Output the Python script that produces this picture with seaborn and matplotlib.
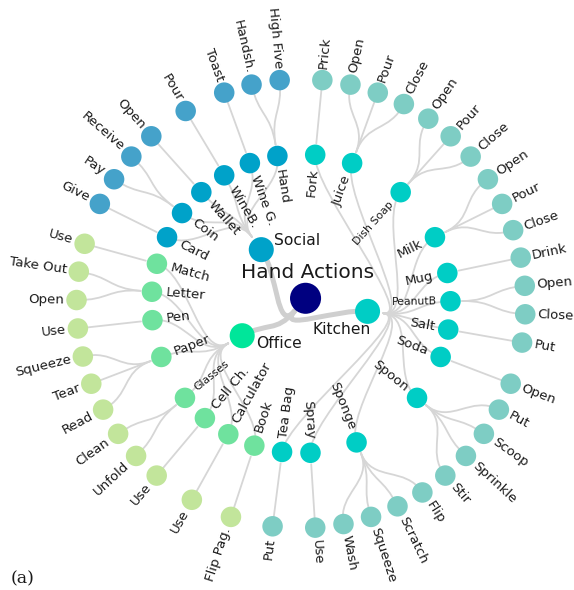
import numpy as np
import pandas as pd
import matplotlib
matplotlib.use('Agg')
import matplotlib.pyplot as plt
from matplotlib.path import Path
from matplotlib.patches import PathPatch
import seaborn as sns

# ── data: hierarchy root -> category -> object -> action ──
ROOT = "Hand Actions"
CATEGORIES = ["Kitchen", "Office", "Social"]

KITCHEN_OBJECTS = ["Fork", "Juice", "Dish Soap", "Milk", "Mug", "PeanutB",
                   "Salt", "Soda", "Spoon", "Sponge", "Spray", "Tea Bag"]
KITCHEN_ACTIONS = [["Prick"], ["Open", "Pour", "Close"], ["Open", "Pour", "Close"],
                   ["Open", "Pour", "Close"], ["Drink"], ["Open", "Close"], ["Put"],
                   ["Open"], ["Put", "Scoop", "Sprinkle", "Stir"],
                   ["Flip", "Scratch", "Squeeze", "Wash"], ["Use"], ["Put"]]

OFFICE_OBJECTS = ["Book", "Calculator", "Cell Ch.", "Glasses", "Paper", "Pen",
                  "Letter", "Match"]
OFFICE_ACTIONS = [["Flip Pag."], ["Use"], ["Use"], ["Unfold", "Clean"],
                  ["Read", "Tear", "Squeeze"], ["Use"], ["Open", "Take Out"], ["Use"]]

SOCIAL_OBJECTS = ["Card", "Coin", "Wallet", "WineB.", "Wine G.", "Hand"]
SOCIAL_ACTIONS = [["Give"], ["Pay", "Receive"], ["Open"], ["Pour"], ["Toast"],
                  ["Handsh.", "High Five"]]

# objects that get a wider angular gap before their first leaf
WIDE_GAP_BEFORE = ["Fork", "Soda", "Tea Bag", "Book", "Calculator", "Cell Ch.",
                   "Card", "WineB.", "Wine G."]
SMALL_LABELS = ["Dish Soap", "PeanutB", "Glasses"]

# ── style ──
ROOT_COLOR = "#000080"
CAT_COLORS = {"Kitchen": "#00cdc5", "Office": "#00e69a", "Social": "#00a2c9"}
OBJ_COLORS = {"Kitchen": "#00cdc5", "Office": "#6fe29e", "Social": "#00a2c9"}
LEAF_COLORS = {"Kitchen": "#7ecdc4", "Office": "#c2e59b", "Social": "#45a2ca"}
MARKER_R = {0: -7, 1: 67, 2: 149.5, 3: 224.5}   # px from layout centre
LINK_R = {0: 10, 1: 83, 2: 161, 3: 224.5}
NODE_SIZE = {0: 500, 1: 325, 2: 218, 3: 218}
CAT_LABEL_OFFSET = {"Kitchen": (-26, -18, "center"), "Office": (14, -8, "left"),
                    "Social": (13, 9, "left")}
EDGE_COLOR = "#d6d6d6"
TEXT_COLOR = "#1a1a1a"


def polar(a, r):
    """d3-style angle (deg, clockwise from top) -> x, y."""
    t = np.radians(a)
    return r * np.sin(t), r * np.cos(t)


def bump(ax, a0, r0, a1, r1, lw, color):
    rm = (r0 + r1) / 2
    verts = [polar(a0, r0), polar(a0, rm), polar(a1, rm), polar(a1, r1)]
    path = Path(verts, [Path.MOVETO, Path.CURVE4, Path.CURVE4, Path.CURVE4])
    ax.add_patch(PathPatch(path, fc='none', ec=color, lw=lw, zorder=1,
                           capstyle='round'))


def radial_text(ax, a, r, text, outward, size):
    m = 90 - a
    right = np.cos(np.radians(m)) >= 0
    rot = m if right else m + 180
    rot = (rot + 180) % 360 - 180
    if outward:
        ha = 'left' if right else 'right'
    else:
        ha = 'right' if right else 'left'
    x, y = polar(a, r)
    ax.text(x, y, text, rotation=rot, rotation_mode='anchor', ha=ha, va='center',
            fontsize=size, color=TEXT_COLOR, zorder=5)


# ── cluster layout ──
all_objects = [KITCHEN_OBJECTS, OFFICE_OBJECTS, SOCIAL_OBJECTS]
all_actions = [KITCHEN_ACTIONS, OFFICE_ACTIONS, SOCIAL_ACTIONS]
leaves, seps = [], []
for cat, objs, acts in zip(CATEGORIES, all_objects, all_actions):
    for obj, al in zip(objs, acts):
        for j, act in enumerate(al):
            leaves.append((cat, obj, act))
            seps.append(1.5 if (j == 0 and obj in WIDE_GAP_BEFORE) else 1.0)
wrap = seps[0]
pos = np.concatenate([[0], np.cumsum(seps[1:])])
leaf_angle = (pos + wrap / 2) / (pos[-1] + wrap) * 360

leaf_df = pd.DataFrame(leaves, columns=['cat', 'obj', 'act'])
leaf_df['angle'] = leaf_angle
obj_df = leaf_df.groupby(['cat', 'obj'], sort=False)['angle'].mean().reset_index()
cat_df = obj_df.groupby('cat', sort=False)['angle'].mean().reset_index()
root_angle = cat_df['angle'].mean()

# ── node table for seaborn ──
rows = [(ROOT, 0, root_angle, ROOT_COLOR)]
rows += [(c, 1, a, CAT_COLORS[c]) for c, a in zip(cat_df['cat'], cat_df['angle'])]
rows += [(o, 2, a, OBJ_COLORS[c]) for c, o, a in zip(obj_df['cat'], obj_df['obj'], obj_df['angle'])]
rows += [(t, 3, a, LEAF_COLORS[c]) for c, t, a in zip(leaf_df['cat'], leaf_df['act'], leaf_df['angle'])]
nodes = pd.DataFrame(rows, columns=['name', 'depth', 'angle', 'color'])
xy = [polar(a, MARKER_R[d]) for a, d in zip(nodes['angle'], nodes['depth'])]
nodes['x'] = [p[0] for p in xy]
nodes['y'] = [p[1] for p in xy]

sns.set_style('white')
fig = plt.figure(figsize=(5.74, 5.9), dpi=100)
ax = fig.add_axes([0, 0, 1, 1])

# edges
for a in cat_df['angle']:
    bump(ax, root_angle, LINK_R[0], a, MARKER_R[1], 3.6, '#cfcfcf')
cat_angle = dict(zip(cat_df['cat'], cat_df['angle']))
for c, a in zip(obj_df['cat'], obj_df['angle']):
    bump(ax, cat_angle[c], LINK_R[1], a, MARKER_R[2], 1.3, EDGE_COLOR)
obj_angle = dict(zip(zip(obj_df['cat'], obj_df['obj']), obj_df['angle']))
for c, o, a in zip(leaf_df['cat'], leaf_df['obj'], leaf_df['angle']):
    bump(ax, obj_angle[(c, o)], LINK_R[2], a, LINK_R[3], 1.3, EDGE_COLOR)

sns.scatterplot(data=nodes, x='x', y='y', hue='color', size='depth',
                palette={c: c for c in nodes['color'].unique()},
                sizes=NODE_SIZE, linewidth=0, legend=False, ax=ax, zorder=3)

# labels
for a, t in zip(leaf_df['angle'], leaf_df['act']):
    radial_text(ax, a, MARKER_R[3] + 12, t, True, 9.5)
for a, o in zip(obj_df['angle'], obj_df['obj']):
    radial_text(ax, a, MARKER_R[2] - 14, o, False, 7.8 if o in SMALL_LABELS else 9.5)
for c, a in zip(cat_df['cat'], cat_df['angle']):
    x, y = polar(a, MARKER_R[1])
    dx, dy, ha = CAT_LABEL_OFFSET[c]
    ax.text(x + dx, y + dy, c, ha=ha, va='center', fontsize=11.2, color=TEXT_COLOR, zorder=5)
rx, ry = polar(root_angle, MARKER_R[0])
ax.text(rx + 2, ry + 26, ROOT, ha='center', va='center', fontsize=14.5,
        color=TEXT_COLOR, zorder=5)
ax.text(-290, -279.5, "(a)", family='DejaVu Serif', fontsize=12.5,
        ha='left', va='baseline', color=TEXT_COLOR)

ax.set_xlim(-301, 273)
ax.set_ylim(-286.4, 303.6)
ax.set_aspect('equal')
ax.axis('off')

fig.savefig('out.png', dpi=100)
